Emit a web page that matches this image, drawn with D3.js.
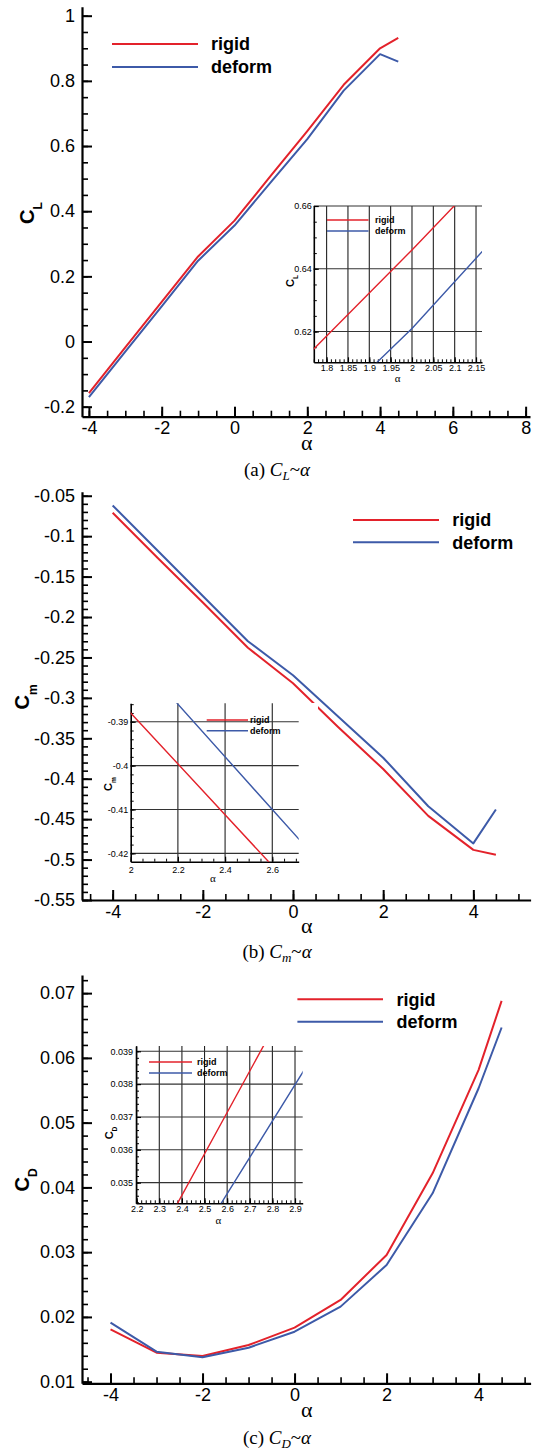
<!DOCTYPE html>
<html>
<head>
<meta charset="utf-8">
<script src="https://cdn.jsdelivr.net/npm/d3@7"></script>
<style>
  body { margin: 0; background: #fff; }
  svg { display: block; }
</style>
</head>
<body>
<div class="content"></div>
<script>
// angle of attack (deg) and the three coefficients, rigid vs deformed wing
var alpha = [-4, -3, -2, -1, 0, 1, 2, 3, 4, 4.5];

var clRigid  = [-0.158, -0.018, 0.122, 0.261, 0.371, 0.509, 0.646, 0.788, 0.900, 0.932];
var clDeform = [-0.171, -0.031, 0.108, 0.248, 0.356, 0.489, 0.621, 0.770, 0.882, 0.859];

var cmRigid  = [-0.071, -0.127, -0.182, -0.238, -0.282, -0.336, -0.388, -0.446, -0.488, -0.494];
var cmDeform = [-0.062, -0.118, -0.174, -0.230, -0.272, -0.323, -0.374, -0.434, -0.480, -0.438];

var cdRigid  = [0.01808, 0.01448, 0.01397, 0.01566, 0.01834, 0.02262, 0.02957, 0.04218, 0.05815, 0.06881];
var cdDeform = [0.01911, 0.01463, 0.01376, 0.01525, 0.01772, 0.02159, 0.02802, 0.03909, 0.05531, 0.06469];

// tick labels
var clTicksX = [-4, -2, 0, 2, 4, 6, 8];
var clTicksY = [-0.2, 0, 0.2, 0.4, 0.6, 0.8, 1];
var cmTicksX = [-4, -2, 0, 2, 4];
var cmTicksY = [-0.55, -0.5, -0.45, -0.4, -0.35, -0.3, -0.25, -0.2, -0.15, -0.1, -0.05];
var cdTicksX = [-4, -2, 0, 2, 4];
var cdTicksY = [0.01, 0.02, 0.03, 0.04, 0.05, 0.06, 0.07];

var clInsetX = [1.8, 1.85, 1.9, 1.95, 2, 2.05, 2.1, 2.15];
var clInsetY = [0.62, 0.64, 0.66];
var cmInsetX = [2, 2.2, 2.4, 2.6];
var cmInsetY = [-0.42, -0.41, -0.4, -0.39];
var cdInsetX = [2.2, 2.3, 2.4, 2.5, 2.6, 2.7, 2.8, 2.9];
var cdInsetY = [0.035, 0.036, 0.037, 0.038, 0.039];

var seriesNames = ["rigid", "deform"];
var colors = {rigid: "#e3222b", deform: "#3d5aa8"};

var SANS = "'Liberation Sans', Arial, sans-serif";
var SERIF = "'Liberation Serif', 'Times New Roman', serif";

var fmt = function(d) { return String(+d.toFixed(4)); };

var svg = d3.select(".content").append("svg")
    .attr("width", 536)
    .attr("height", 1450);

var clipId = 0;

// draws one set of axes + lines; used for main plots and for the insets
function drawPlot(g, o) {
  var x = d3.scaleLinear().domain(o.xDom).range([o.box.left, o.box.right]);
  var y = d3.scaleLinear().domain(o.yDom).range([o.box.bottom, o.box.top]);

  if (o.bg) {
    g.append("rect")
      .attr("x", o.bg[0]).attr("y", o.bg[1])
      .attr("width", o.bg[2]).attr("height", o.bg[3])
      .attr("fill", "#fff");
  }

  // grid (insets only)
  if (o.grid) {
    g.append("g").selectAll("line")
      .data(o.ticksX.filter(function(t) { return t > o.xDom[0] + 1e-6; }))
      .enter().append("line")
        .attr("x1", function(d) { return x(d); }).attr("x2", function(d) { return x(d); })
        .attr("y1", o.box.top).attr("y2", o.box.bottom)
        .attr("stroke", "#222").attr("stroke-width", 1.1);
    g.append("g").selectAll("line")
      .data(o.ticksY)
      .enter().append("line")
        .attr("y1", function(d) { return y(d); }).attr("y2", function(d) { return y(d); })
        .attr("x1", o.box.left).attr("x2", o.box.right)
        .attr("stroke", "#333").attr("stroke-width", 1.1);
  }

  // minor ticks
  var xMinor = d3.range(Math.ceil(o.xDom[0] / o.xMinor) * o.xMinor, o.xDom[1], o.xMinor);
  var yMinor = d3.range(Math.ceil(o.yDom[0] / o.yMinor) * o.yMinor, o.yDom[1], o.yMinor);

  g.append("g")
    .attr("transform", "translate(0," + o.box.bottom + ")")
    .call(d3.axisBottom(x).tickValues(xMinor).tickSize(-o.minorLen).tickSizeOuter(0).tickFormat(""))
    .call(function(a) { a.select(".domain").remove(); })
    .selectAll("line").attr("stroke-width", o.minorW);
  g.append("g")
    .attr("transform", "translate(" + o.box.left + ",0)")
    .call(d3.axisLeft(y).tickValues(yMinor).tickSize(-o.minorLen).tickSizeOuter(0).tickFormat(""))
    .call(function(a) { a.select(".domain").remove(); })
    .selectAll("line").attr("stroke-width", o.minorW);

  // major ticks + labels
  var xAxis = g.append("g")
    .attr("transform", "translate(0," + o.box.bottom + ")")
    .call(d3.axisBottom(x).tickValues(o.ticksX).tickSize(-o.majorLen).tickSizeOuter(0)
      .tickPadding(o.padX).tickFormat(fmt));
  var yAxis = g.append("g")
    .attr("transform", "translate(" + o.box.left + ",0)")
    .call(d3.axisLeft(y).tickValues(o.ticksY).tickSize(-o.majorLen).tickSizeOuter(0)
      .tickPadding(o.padY).tickFormat(fmt));

  [xAxis, yAxis].forEach(function(a) {
    a.attr("font-family", SANS).attr("font-size", o.fontSize);
    a.selectAll("text").attr("fill", "#000");
    a.selectAll(".tick line").attr("stroke-width", o.majorW);
    a.select(".domain").attr("stroke-width", o.axisW);
  });

  // data lines, clipped to the plot box
  var id = "clip" + (clipId++);
  g.append("clipPath").attr("id", id)
    .append("rect")
      .attr("x", o.box.left).attr("y", o.box.top)
      .attr("width", o.box.right - o.box.left).attr("height", o.box.bottom - o.box.top);

  var line = d3.line()
    .x(function(d) { return x(d[0]); })
    .y(function(d) { return y(d[1]); });

  g.append("g").attr("clip-path", "url(#" + id + ")")
    .selectAll("path")
    .data(o.series)
    .enter().append("path")
      .attr("d", function(s) { return line(d3.zip(alpha, s.values)); })
      .attr("fill", "none")
      .attr("stroke", function(s) { return colors[s.name]; })
      .attr("stroke-width", o.lineW)
      .attr("stroke-linejoin", "round");

  // legend
  var lg = o.legend;
  var leg = g.append("g");
  seriesNames.forEach(function(n, i) {
    var yy = i === 0 ? lg.y1 : lg.y2;
    leg.append("line")
      .attr("x1", lg.x1).attr("x2", lg.x2).attr("y1", yy).attr("y2", yy)
      .attr("stroke", colors[n]).attr("stroke-width", o.lineW);
    leg.append("text")
      .attr("x", lg.tx).attr("y", yy).attr("dy", "0.35em")
      .attr("font-family", SANS).attr("font-weight", "bold")
      .attr("font-size", lg.size)
      .text(n);
  });

  // y title  (C with subscript)
  var t = g.append("text")
    .attr("transform", "translate(" + o.yTitle.x + "," + o.yTitle.y + ") rotate(-90)")
    .attr("text-anchor", "middle")
    .attr("font-family", SANS).attr("font-weight", "bold")
    .attr("font-size", o.yTitle.size);
  t.append("tspan").text("C");
  t.append("tspan").attr("font-size", o.yTitle.size * 0.6).attr("dy", o.yTitle.size * 0.4).text(o.yTitle.sub);

  // x title
  g.append("text")
    .attr("x", o.xTitle.x).attr("y", o.xTitle.y)
    .attr("text-anchor", "middle")
    .attr("font-family", SERIF)
    .attr("font-size", o.xTitle.size)
    .text("α");
}

function caption(letter, sub, yBase) {
  var t = svg.append("text")
    .attr("x", 277).attr("y", yBase)
    .attr("text-anchor", "middle")
    .attr("font-family", SERIF)
    .attr("font-size", 19);
  t.append("tspan").text("(" + letter + ") ");
  t.append("tspan").attr("font-style", "italic").text("C");
  t.append("tspan").attr("font-style", "italic").attr("font-size", 13).attr("dy", 4).text(sub);
  t.append("tspan").attr("dy", -4).text("~");
  t.append("tspan").attr("font-style", "italic").text("α");
}

var mainStyle = {
  majorLen: 10, minorLen: 6, majorW: 2, minorW: 1.6, axisW: 2.2,
  fontSize: 18, padX: 5, padY: 7, lineW: 2
};
var insetStyle = {
  majorLen: 5, minorLen: 3, majorW: 1.2, minorW: 1, axisW: 1.6,
  fontSize: 9, lineW: 1.4, grid: true
};

function panel(extra, base) {
  return Object.assign({}, base, extra);
}

// ---- (a) CL ----
var gA = svg.append("g");
drawPlot(gA, panel({
  box: {left: 82, right: 530, top: 6.7, bottom: 416.7},
  xDom: [-4.19, 8.12], yDom: [-0.2307, 1.0276], xMinor: 0.5, yMinor: 0.05,
  ticksX: clTicksX, ticksY: clTicksY,
  series: [{name: "rigid", values: clRigid}, {name: "deform", values: clDeform}],
  legend: {x1: 112, x2: 198, y1: 44, y2: 67, tx: 211, size: 18},
  yTitle: {x: 33.5, y: 213, size: 20, sub: "L"},
  xTitle: {x: 306.7, y: 450, size: 22}
}, mainStyle));
drawPlot(gA, panel({
  box: {left: 313.8, right: 482, top: 206, bottom: 362.3},
  xDom: [1.77, 2.164], yDom: [0.6102, 0.66], xMinor: 0.01, yMinor: 0.005,
  ticksX: clInsetX, ticksY: clInsetY, padX: 2.6, padY: 2,
  bg: [280, 198, 210, 192],
  series: [{name: "rigid", values: clRigid}, {name: "deform", values: clDeform}],
  legend: {x1: 327, x2: 368.5, y1: 220, y2: 231, tx: 375, size: 9},
  yTitle: {x: 294, y: 281, size: 11, sub: "L"},
  xTitle: {x: 397.6, y: 382, size: 11}
}, insetStyle));
caption("a", "L", 476);

// ---- (b) Cm ----
var gB = svg.append("g");
drawPlot(gB, panel({
  box: {left: 82, right: 530.6, top: 491.7, bottom: 900},
  xDom: [-4.68, 5.27], yDom: [-0.55, -0.045], xMinor: 0.5, yMinor: 0.01,
  ticksX: cmTicksX, ticksY: cmTicksY,
  series: [{name: "rigid", values: cmRigid}, {name: "deform", values: cmDeform}],
  legend: {x1: 353, x2: 439, y1: 520, y2: 542.3, tx: 452.3, size: 18},
  yTitle: {x: 29, y: 697, size: 20, sub: "m"},
  xTitle: {x: 306.7, y: 933, size: 22}
}, mainStyle));
drawPlot(gB, panel({
  box: {left: 130.7, right: 298.7, top: 703.3, bottom: 861.7},
  xDom: [2.0, 2.712], yDom: [-0.4219, -0.3858], xMinor: 0.05, yMinor: 0.002,
  ticksX: cmInsetX, ticksY: cmInsetY, padX: 4.6, padY: 2.4,
  bg: [98, 703, 220, 187],
  series: [{name: "rigid", values: cmRigid}, {name: "deform", values: cmDeform}],
  legend: {x1: 206.7, x2: 248, y1: 720, y2: 730.7, tx: 250, size: 9},
  yTitle: {x: 111.5, y: 784, size: 11, sub: "m"},
  xTitle: {x: 213, y: 882, size: 11}
}, insetStyle));
caption("b", "m", 958);

// ---- (c) CD ----
var gC = svg.append("g");
drawPlot(gC, panel({
  box: {left: 82, right: 530.6, top: 975, bottom: 1383.3},
  xDom: [-4.62, 5.13], yDom: [0.00975, 0.0728], xMinor: 0.5, yMinor: 0.002,
  ticksX: cdTicksX, ticksY: cdTicksY,
  series: [{name: "rigid", values: cdRigid}, {name: "deform", values: cdDeform}],
  legend: {x1: 297.4, x2: 383, y1: 999.3, y2: 1021.7, tx: 396.6, size: 18},
  yTitle: {x: 29, y: 1180, size: 20, sub: "D"},
  xTitle: {x: 306.7, y: 1417, size: 22}
}, mainStyle));
drawPlot(gC, panel({
  box: {left: 136, right: 302.7, top: 1046, bottom: 1203.3},
  xDom: [2.197, 2.934], yDom: [0.03437, 0.03916], xMinor: 0.02, yMinor: 0.0002,
  ticksX: cdInsetX, ticksY: cdInsetY, padX: 2.6, padY: 3,
  bg: [98, 1040, 212, 192],
  series: [{name: "rigid", values: cdRigid}, {name: "deform", values: cdDeform}],
  legend: {x1: 149, x2: 192, y1: 1062, y2: 1073, tx: 197, size: 9},
  yTitle: {x: 113, y: 1133, size: 11, sub: "D"},
  xTitle: {x: 218.3, y: 1224, size: 11}
}, insetStyle));
caption("c", "D", 1444);
</script>
</body>
</html>
